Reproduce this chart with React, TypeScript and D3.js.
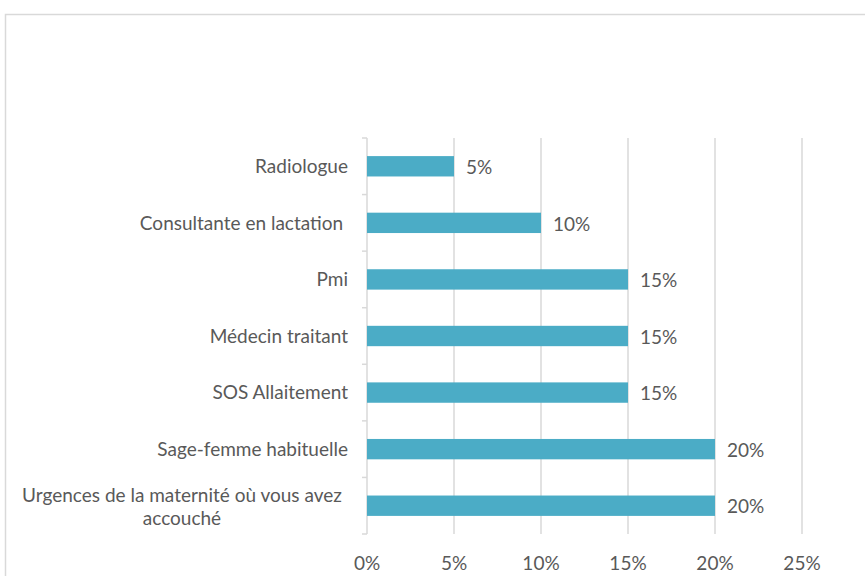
import React from "react";
import * as d3 from "d3";

const categories = [
  "Radiologue",
  "Consultante en lactation ",
  "Pmi",
  "Médecin traitant",
  "SOS Allaitement",
  "Sage-femme habituelle",
  "Urgences de la maternité où vous avez accouché",
];
const values = [0.05, 0.1, 0.15, 0.15, 0.15, 0.2, 0.2];
const xTicks = [0, 0.05, 0.1, 0.15, 0.2, 0.25];

const W = 865;
const H = 576;
const FONT = "Lato, 'Noto Sans', sans-serif";
const TEXT = "#595959";
const GRID = "#d9d9d9";
const BAR = "#4bacc6";
const FS = 19;

function wrapLabel(s: string): string[] {
  if (s.startsWith("Urgences")) return ["Urgences de la maternité où vous avez", "accouché"];
  return [s];
}

export default function App() {
  const x = d3.scaleLinear().domain([0, 0.25]).range([367, 802]);
  const y = d3
    .scaleBand<string>()
    .domain(categories)
    .range([138, 534])
    .paddingInner(0.64)
    .paddingOuter(0.32);
  const fmt = d3.format(".0%");
  const step = y.step();
  const top = 138;
  const bottom = 534;

  return (
    <svg
      width={W}
      height={H}
      style={{ position: "absolute", left: 0, top: 0, background: "#fff" }}
      fontFamily={FONT}
    >
      <rect x={5.5} y={14.5} width={W + 20} height={H + 20} fill="#fff" stroke={GRID} strokeWidth={1.5} />
      {xTicks.map((t) => (
        <line key={"g" + t} x1={x(t)} x2={x(t)} y1={top} y2={bottom} stroke={GRID} strokeWidth={1.5} />
      ))}
      {d3.range(categories.length + 1).map((i) => (
        <line
          key={"t" + i}
          x1={x(0) - 5}
          x2={x(0)}
          y1={top + i * step}
          y2={top + i * step}
          stroke={GRID}
          strokeWidth={1.5}
        />
      ))}
      {categories.map((c, i) => {
        const yc = (y(c) as number) + y.bandwidth() / 2;
        const lines = wrapLabel(c);
        return (
          <g key={c}>
            <rect
              x={x(0)}
              y={y(c)}
              width={x(values[i]) - x(0)}
              height={y.bandwidth()}
              fill={BAR}
            />
            <text x={x(values[i]) + 12} y={yc + 1} dy="0.35em" fontSize={FS} fill={TEXT}>
              {fmt(values[i])}
            </text>
            {lines.length === 1 ? (
              <text x={348} y={yc} dy="0.35em" textAnchor="end" fontSize={FS} fill={TEXT} xmlSpace="preserve">
                {c}
              </text>
            ) : (
              <text textAnchor="middle" fontSize={FS} fill={TEXT}>
                {lines.map((l, k) => (
                  <tspan key={k} x={182} y={yc - 10 + k * 23} dy="0.35em">
                    {l}
                  </tspan>
                ))}
              </text>
            )}
          </g>
        );
      })}
      {xTicks.map((t) => (
        <text key={"l" + t} x={x(t)} y={563} dy="0.35em" textAnchor="middle" fontSize={FS} fill={TEXT}>
          {fmt(t)}
        </text>
      ))}
    </svg>
  );
}
